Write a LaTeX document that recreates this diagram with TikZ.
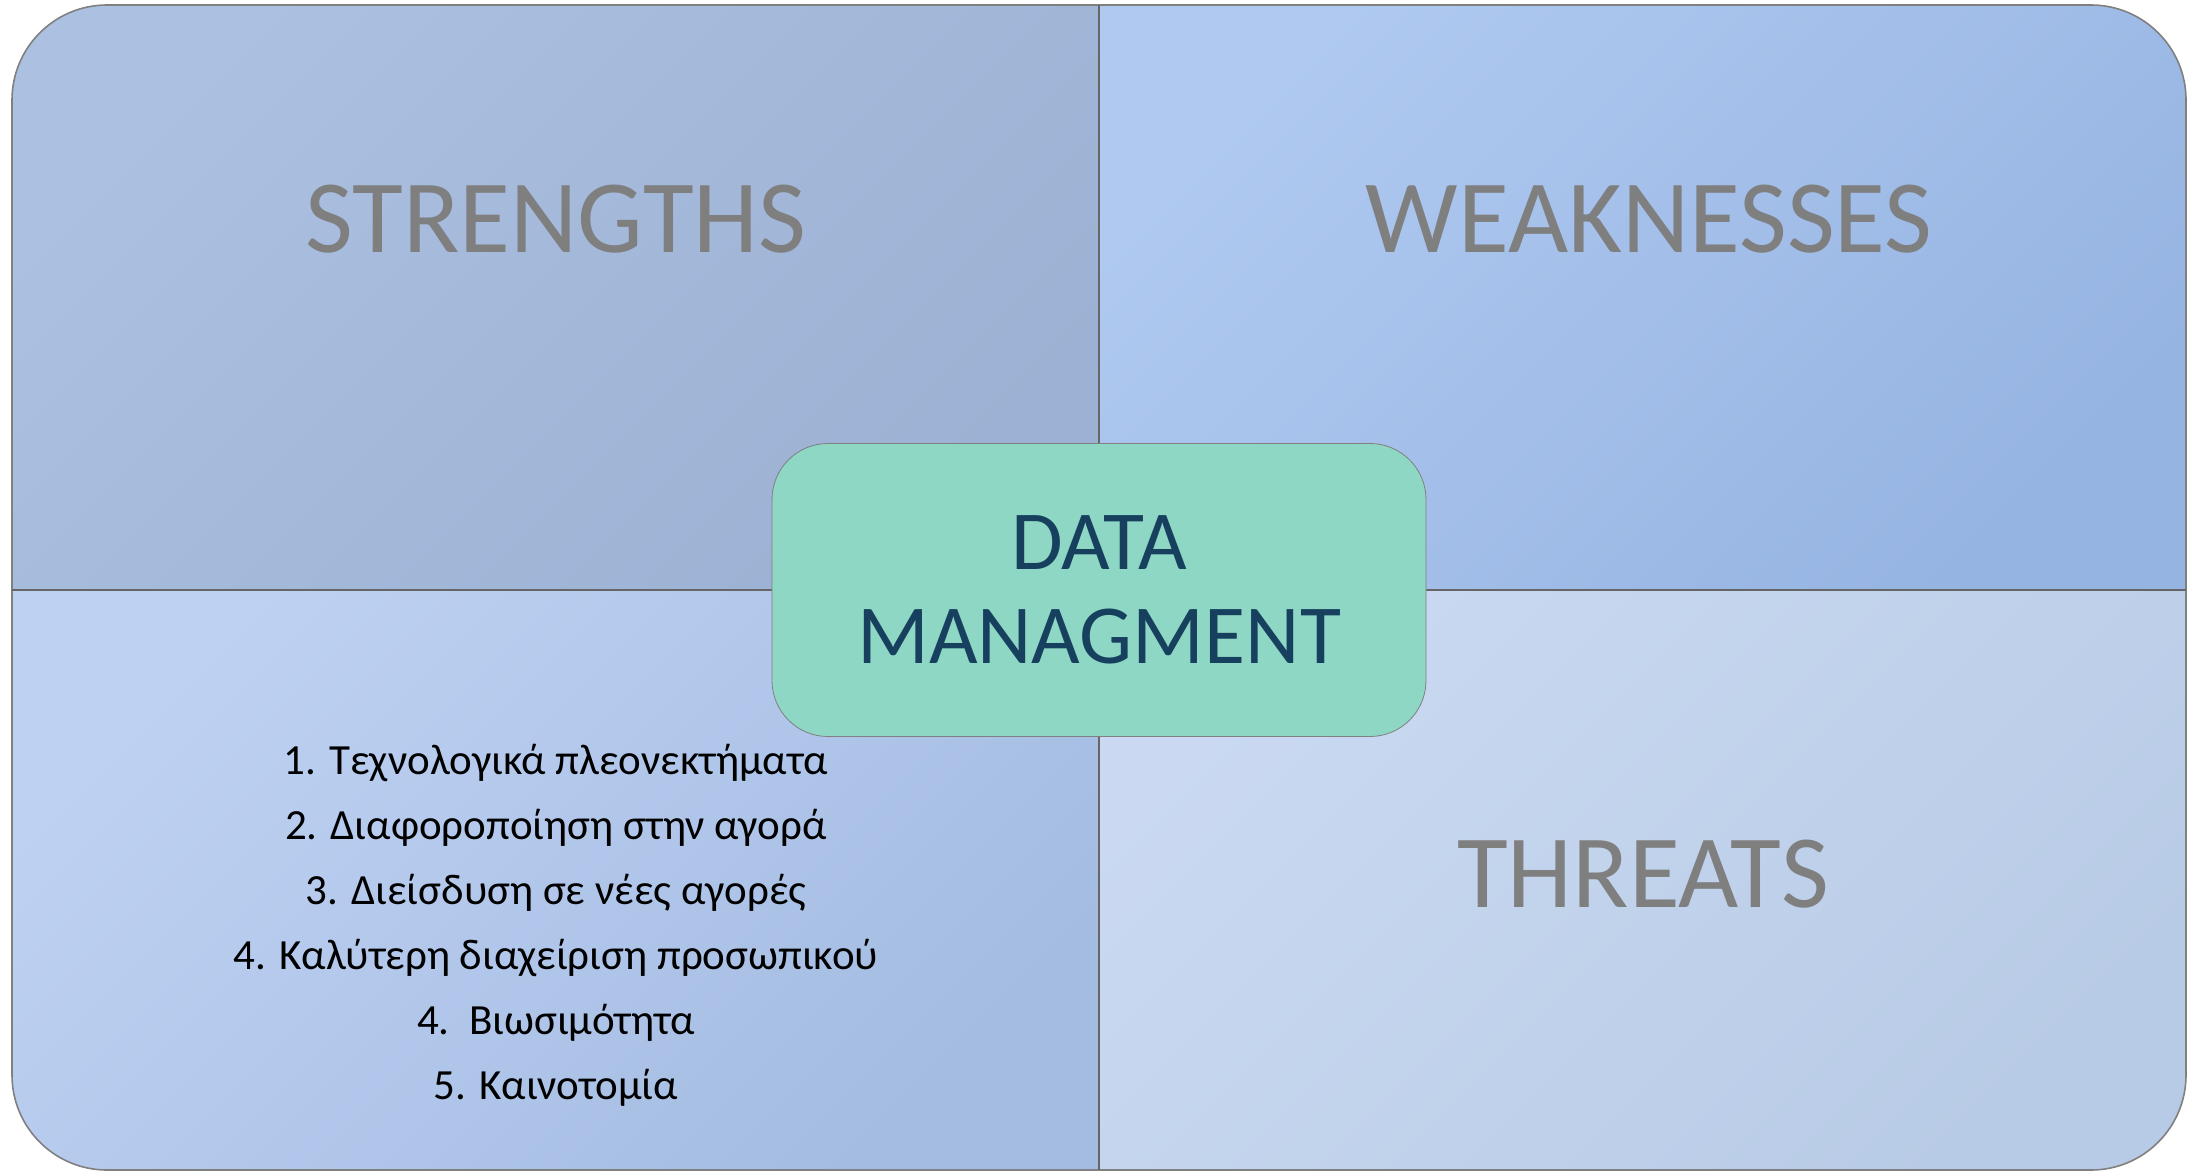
\documentclass[tikz,border=0pt]{standalone}
\usepackage{fontspec}
\setmainfont{Carlito}
\definecolor{graytext}{HTML}{7F7F7F}
\definecolor{navytext}{HTML}{17405E}
\definecolor{mint}{HTML}{8DD7C4}
\begin{document}
\begin{tikzpicture}[x=0.5pt,y=-0.5pt,
  quadlabel/.style={text=graytext,font=\fontsize{52}{60}\selectfont},
  centrebox/.style={draw=gray,fill=mint,rounded corners=28pt,
    minimum width=327pt,minimum height=146.5pt,align=center,text=navytext,
    font=\fontsize{42}{46.75}\selectfont},
  itemlist/.style={align=center,font=\fontsize{21.5}{32.5}\selectfont}]
  \useasboundingbox (0,0) rectangle (2189,1172);
  \coordinate (A) at (12,5);
  \coordinate (B) at (2186,1170);
  \coordinate (M) at (1099,590);
  \coordinate (T) at (1099,5);
  \coordinate (D) at (1099,1170);
  \coordinate (L) at (12,590);
  \coordinate (R) at (2186,590);
  %Quadrants
  \begin{scope}
    \clip[rounded corners=47.5pt] (A) rectangle (B);
    \shade[top color={rgb,255:red,172;green,192;blue,225},bottom color={rgb,255:red,156;green,177;blue,211},shading angle=45] (A) rectangle (M);
    \shade[top color={rgb,255:red,175;green,201;blue,240},bottom color={rgb,255:red,150;green,180;blue,226},shading angle=45] (T) rectangle (R);
    \shade[top color={rgb,255:red,190;green,209;blue,242},bottom color={rgb,255:red,164;green,188;blue,226},shading angle=45] (L) rectangle (D);
    \shade[top color={rgb,255:red,202;green,217;blue,241},bottom color={rgb,255:red,184;green,203;blue,230},shading angle=45] (M) rectangle (B);
  \end{scope}
  \draw[gray,line width=0.8pt,rounded corners=47.5pt] (A) rectangle (B);
  %Cross
  \draw[black!60,line width=0.6pt] (T)--(D);
  \draw[black!60,line width=0.6pt] (L)--(R);
  %Labels
  \node[quadlabel] (strengths) at (556,219) {STRENGTHS};
  \node[quadlabel] (weaknesses) at (1649,219) {WEAKNESSES};
  \node[quadlabel] (threats) at (1643,874) {THREATS};
  %Centre
  \node[centrebox] (data) at (M) {DATA\\MANAGMENT};
  %List
  \node[itemlist] (opportunities) at (556,925) {1. Τεχνολογικά πλεονεκτήματα\\
    2. Διαφοροποίηση στην αγορά\\
    3. Διείσδυση σε νέες αγορές\\
    4. Καλύτερη διαχείριση προσωπικού\\
    4.\ \ Βιωσιμότητα\\
    5. Καινοτομία};
\end{tikzpicture}
\end{document}
